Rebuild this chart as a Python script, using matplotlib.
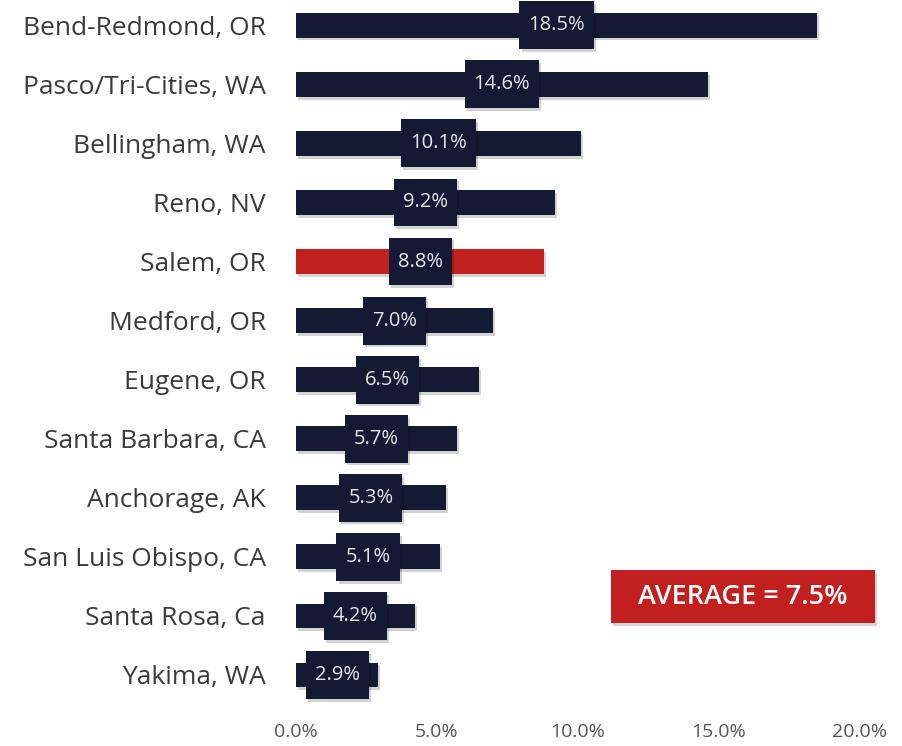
import matplotlib.pyplot as plt
from matplotlib.patches import Rectangle
from matplotlib.ticker import FuncFormatter
import matplotlib.patheffects as pe

plt.rcParams['font.family'] = ['Open Sans', 'DejaVu Sans']

# Data (top to bottom)
cities = ["Bend-Redmond, OR", "Pasco/Tri-Cities, WA", "Bellingham, WA", "Reno, NV",
          "Salem, OR", "Medford, OR", "Eugene, OR", "Santa Barbara, CA",
          "Anchorage, AK", "San Luis Obispo, CA", "Santa Rosa, Ca", "Yakima, WA"]
values = [18.5, 14.6, 10.1, 9.2, 8.8, 7.0, 6.5, 5.7, 5.3, 5.1, 4.2, 2.9]
highlight = "Salem, OR"
average = 7.5

navy = "#141a33"
red = "#c21f1f"

fig = plt.figure(figsize=(9.03, 7.46), dpi=100)
ax = fig.add_axes([0.328, 0.0556, 0.624, 0.944])
ax.set_xlim(0, 20)
ax.set_ylim(11.5, -0.423)

shadow = [pe.SimplePatchShadow(offset=(1.5, -2), alpha=0.18), pe.Normal()]

labels = []
for i, (city, v) in enumerate(zip(cities, values)):
    color = red if city == highlight else navy
    ax.barh(i, v, height=0.42, color=color, path_effects=shadow, zorder=2)
    t = ax.text(v / 2, i, f"{v:.1f}%", ha="center", va="center", color="#e6e6ea",
                fontsize=14.5, zorder=4)
    labels.append(t)

# label boxes: text width + padding, fixed height
fig.canvas.draw()
renderer = fig.canvas.get_renderer()
px_per_x = ax.transData.transform((1, 0))[0] - ax.transData.transform((0, 0))[0]
for i, (t, v) in enumerate(zip(labels, values)):
    w_px = t.get_window_extent(renderer).width + 18
    w = w_px / px_per_x
    h = 0.81
    ax.add_patch(Rectangle((v / 2 - w / 2, i - h / 2), w, h, facecolor=navy,
                           edgecolor="none", zorder=3, path_effects=shadow))

ax.set_yticks(range(len(cities)))
ax.set_yticklabels(cities, fontsize=19, color="#3a3a3a")
ax.set_xticks([0, 5, 10, 15, 20])
ax.xaxis.set_major_formatter(FuncFormatter(lambda x, p: f"{x:.1f}%"))
ax.tick_params(axis="x", length=0, labelsize=14, labelcolor="#555555", pad=13)
ax.tick_params(axis="y", length=0, pad=22)
for s in ax.spines.values():
    s.set_visible(False)

# Average callout
fig.patches.append(Rectangle((0.6766, 0.1649), 0.2924, 0.0710, transform=fig.transFigure,
                             facecolor=red, edgecolor="none", path_effects=shadow))
fig.text(0.8228, 0.2004, f"AVERAGE = {average}%", ha="center", va="center",
         color="white", fontsize=19.5, fontweight="semibold")

fig.savefig("out.png", dpi=100)
